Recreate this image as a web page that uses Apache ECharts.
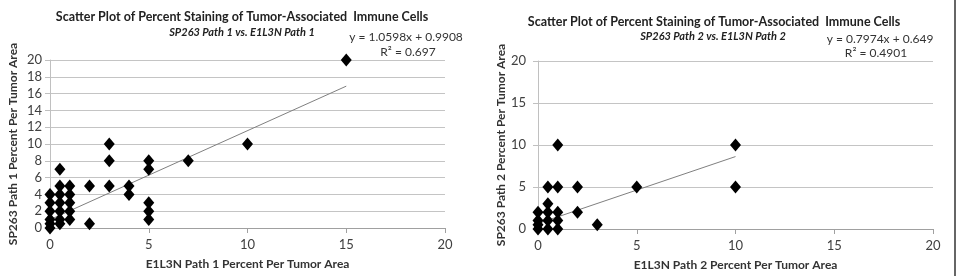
<!DOCTYPE html>
<html>
<head>
<meta charset="utf-8">
<script src="https://cdn.jsdelivr.net/npm/echarts@6/dist/echarts.min.js"></script>
<style>
  html, body { margin: 0; padding: 0; background: #fff; }
  #main { width: 957px; height: 276px; }
</style>
</head>
<body>
<div id="main"></div>
<script>
// chart 1 : SP263 Path 1 vs E1L3N Path 1
var path1X = [0, 0, 0, 0, 0, 0,
              0.5, 0.5, 0.5, 0.5, 0.5, 0.5, 0.5,
              1, 1, 1, 1, 1,
              2, 2,
              3, 3, 3,
              4, 4,
              5, 5, 5, 5, 5,
              7, 10, 15];
var path1Y = [0, 0.5, 1, 2, 3, 4,
              0.5, 1, 2, 3, 4, 5, 7,
              1, 2, 3, 4, 5,
              0.5, 5,
              5, 8, 10,
              4, 5,
              1, 2, 3, 7, 8,
              8, 10, 20];
var fit1 = { slope: 1.0598, intercept: 0.9908 };
var eq1 = ['y = 1.0598x + 0.9908', 'R\u00b2 = 0.697'];

// chart 2 : SP263 Path 2 vs E1L3N Path 2
var path2X = [0, 0, 0, 0,
              0.5, 0.5, 0.5, 0.5, 0.5,
              1, 1, 1, 1, 1,
              2, 2,
              3, 5, 10, 10];
var path2Y = [0, 0.5, 1, 2,
              0, 1, 2, 3, 5,
              0, 1, 2, 5, 10,
              2, 5,
              0.5, 5, 5, 10];
var fit2 = { slope: 0.7974, intercept: 0.649 };
var eq2 = ['y = 0.7974x + 0.649', 'R\u00b2 = 0.4901'];

var titleText = 'Scatter Plot of Percent Staining of Tumor-Associated  Immune Cells';
var subText1 = 'SP263 Path 1 vs. E1L3N Path 1';
var subText2 = 'SP263 Path 2 vs. E1L3N Path 2';
var xName1 = 'E1L3N Path 1 Percent Per Tumor Area';
var xName2 = 'E1L3N Path 2 Percent Per Tumor Area';
var yName1 = 'SP263 Path 1 Percent Per Tumor Area';
var yName2 = 'SP263 Path 2 Percent Per Tumor Area';
var yInterval1 = 2;
var yInterval2 = 5;

var FONT = 'Lato, "Open Sans", sans-serif';

function pairs(xs, ys) {
  var out = [];
  for (var i = 0; i < xs.length; i++) out.push([xs[i], ys[i]]);
  return out;
}
// excel style trendline: from min x to max x of the data
function trend(xs, fit) {
  var lo = Math.min.apply(null, xs), hi = Math.max.apply(null, xs);
  return [[lo, fit.slope * lo + fit.intercept], [hi, fit.slope * hi + fit.intercept]];
}

function xAxisOpt(idx, name) {
  return {
    gridIndex: idx, type: 'value', min: 0, max: 20, interval: 5,
    name: name, nameLocation: 'middle', nameGap: 30,
    nameTextStyle: { fontFamily: FONT, fontWeight: 'bold', fontSize: 12, color: '#333' },
    axisLine: { show: true, lineStyle: { color: '#a0a0a0' } },
    axisTick: { show: true, inside: false, length: 5, lineStyle: { color: '#a0a0a0' } },
    axisLabel: { fontFamily: FONT, fontSize: 13, color: '#404040', margin: 10 },
    splitLine: { show: false }
  };
}
function yAxisOpt(idx, name, interval, gap, margin) {
  return {
    gridIndex: idx, type: 'value', min: 0, max: 20, interval: interval,
    name: name, nameLocation: 'middle', nameGap: gap, nameRotate: 90,
    nameTextStyle: { fontFamily: FONT, fontWeight: 'bold', fontSize: 12, color: '#333' },
    axisLine: { show: true, lineStyle: { color: '#c0c0c0' } },
    axisTick: { show: true, length: 5, lineStyle: { color: '#c0c0c0' } },
    axisLabel: { fontFamily: FONT, fontSize: 13, color: '#404040', margin: margin },
    splitLine: { show: true, lineStyle: { color: '#c4c4c4', width: 1 } }
  };
}
function scatterSeries(idx, xs, ys) {
  return {
    type: 'scatter', xAxisIndex: idx, yAxisIndex: idx,
    symbol: 'diamond', symbolSize: [11, 13], z: 5,
    itemStyle: { color: '#000', opacity: 1 },
    data: pairs(xs, ys)
  };
}
function trendSeries(idx, xs, fit) {
  return {
    type: 'line', xAxisIndex: idx, yAxisIndex: idx,
    showSymbol: false, symbol: 'none', z: 3, silent: true,
    lineStyle: { color: '#808080', width: 1 },
    data: trend(xs, fit)
  };
}
function eqText(x, y, txt) {
  return {
    type: 'text', x: x, y: y,
    style: { text: txt, fontFamily: FONT, fontSize: 12, fill: '#333', align: 'center', verticalAlign: 'middle' }
  };
}

var chartDom = document.getElementById('main');
var myChart = echarts.init(chartDom);
var option = {
  backgroundColor: '#fff',
  animation: false,
  title: [
    { text: titleText, left: 237, top: 5, textAlign: 'center',
      textStyle: { fontFamily: FONT, fontWeight: 'bold', fontSize: 12.5, color: '#222' } },
    { text: subText1, left: 237, top: 22, textAlign: 'center',
      textStyle: { fontFamily: FONT, fontWeight: 'bold', fontStyle: 'italic', fontSize: 11, color: '#222' } },
    { text: titleText, left: 709, top: 10, textAlign: 'center',
      textStyle: { fontFamily: FONT, fontWeight: 'bold', fontSize: 12.5, color: '#222' } },
    { text: subText2, left: 708, top: 26, textAlign: 'center',
      textStyle: { fontFamily: FONT, fontWeight: 'bold', fontStyle: 'italic', fontSize: 11, color: '#222' } }
  ],
  grid: [
    { left: 50, width: 395, top: 60, height: 168 },
    { left: 538, width: 395, top: 61, height: 168 }
  ],
  xAxis: [xAxisOpt(0, xName1), xAxisOpt(1, xName2)],
  yAxis: [yAxisOpt(0, yName1, yInterval1, 31, 8), yAxisOpt(1, yName2, yInterval2, 31, 12)],
  series: [
    trendSeries(0, path1X, fit1),
    scatterSeries(0, path1X, path1Y),
    trendSeries(1, path2X, fit2),
    scatterSeries(1, path2X, path2Y)
  ],
  graphic: [
    eqText(406, 37, eq1[0]),
    eqText(408, 52, eq1[1]),
    eqText(880, 39, eq2[0]),
    eqText(876, 53, eq2[1]),
    { type: 'line', shape: { x1: 955, y1: 0, x2: 955, y2: 276 }, style: { stroke: '#333', lineWidth: 1.5 } }
  ]
};
myChart.setOption(option);
</script>
</body>
</html>
